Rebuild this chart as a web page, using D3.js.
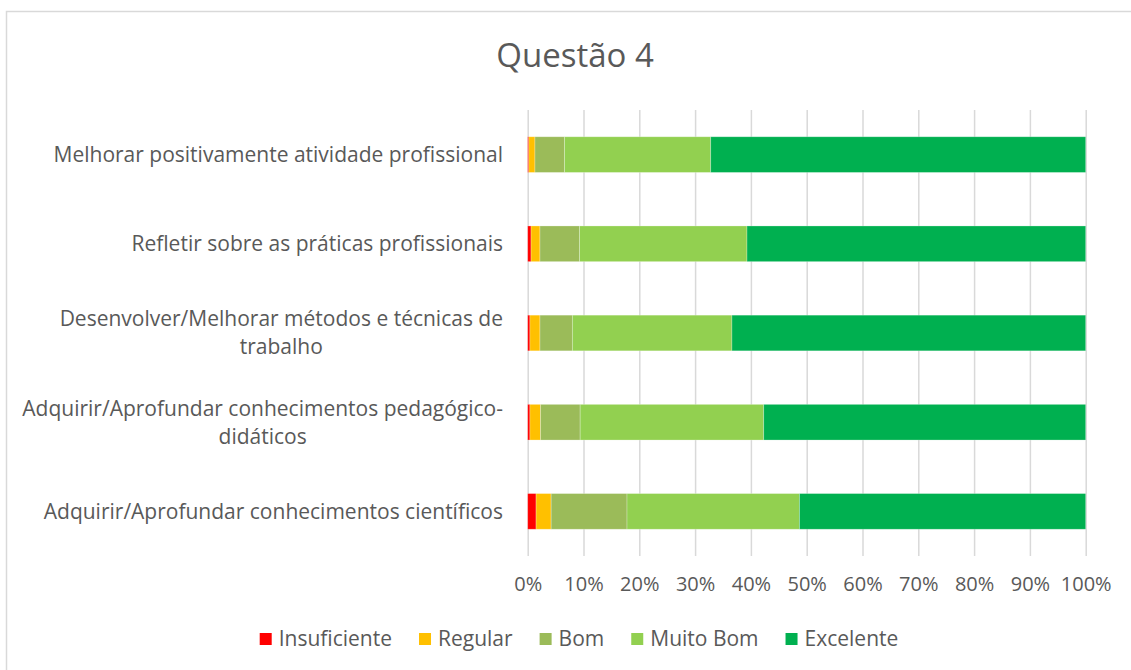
<!DOCTYPE html>
<html>
<head>
<meta charset="utf-8">
<script src="https://cdn.jsdelivr.net/npm/d3@7"></script>
<style>
	body { margin: 0; background: #fff; }
	svg { display: block; font-family: "Open Sans", Lato, sans-serif; }
	.tick line { stroke: #d9d9d9; stroke-width: 1.5; }
	.domain { display: none; }
	.tick text { fill: #595959; font-size: 20px; font-family: "Open Sans", sans-serif; }
</style>
</head>
<body>
<svg id="chart" width="1131" height="670"></svg>
<script>
// categories from top to bottom as displayed
const categories = [
	["Melhorar positivamente atividade profissional"],
	["Refletir sobre as práticas profissionais"],
	["Desenvolver/Melhorar métodos e técnicas de", "trabalho"],
	["Adquirir/Aprofundar conhecimentos pedagógico-", "didáticos"],
	["Adquirir/Aprofundar conhecimentos científicos"]
];
const seriesNames = ["Insuficiente", "Regular", "Bom", "Muito Bom", "Excelente"];
const colors = ["#ff0000", "#ffc000", "#9bbb59", "#92d050", "#00b050"];

// percentages per category (same order as categories)
const insuficiente = [0.2, 0.6, 0.4, 0.4, 1.5];
const regular = [1.1, 1.6, 1.8, 1.9, 2.7];
const bom = [5.3, 7.1, 5.8, 7.1, 13.6];
const muitoBom = [26.2, 30.0, 28.6, 32.9, 30.9];
const excelente = [67.2, 60.7, 63.4, 57.7, 51.3];

const ticks = [0, 10, 20, 30, 40, 50, 60, 70, 80, 90, 100];

const w = 1131;
const h = 670;
const svg = d3.select('#chart');

// chart frame
svg.append('rect')
	.attr('x', 6.5)
	.attr('y', 11.5)
	.attr('width', 1200)
	.attr('height', 700)
	.attr('fill', '#fff')
	.attr('stroke', '#d9d9d9')
	.attr('stroke-width', 1.5);

svg.append('text')
	.attr('x', 575)
	.attr('y', 67)
	.attr('text-anchor', 'middle')
	.attr('fill', '#595959')
	.style('font-size', '33px')
	.text('Questão 4');

const xScale = d3.scaleLinear()
	.domain([0, 100])
	.range([527.7, 1085.7]);

const yScale = d3.scaleBand()
	.domain(d3.range(categories.length))
	.range([110, 556])
	.paddingInner(0.6)
	.paddingOuter(0.3);

const xAxis = d3.axisBottom(xScale)
	.tickValues(ticks)
	.tickSize(-(556 - 110))
	.tickPadding(21)
	.tickFormat(v => v + '%');

svg.append('g')
	.attr('id', 'x-axis')
	.attr('transform', 'translate(0, 556)')
	.call(xAxis);

const rows = categories.map((c, i) => {
	const vals = [insuficiente[i], regular[i], bom[i], muitoBom[i], excelente[i]];
	const total = d3.sum(vals);
	let acc = 0;
	return vals.map((v, k) => {
		const seg = { row: i, k: k, x0: acc / total * 100, x1: (acc + v) / total * 100 };
		acc += v;
		return seg;
	});
});

svg.append('g')
	.selectAll('rect')
	.data(rows.flat())
	.enter()
	.append('rect')
	.attr('x', d => xScale(d.x0))
	.attr('y', d => yScale(d.row))
	.attr('width', d => xScale(d.x1) - xScale(d.x0))
	.attr('height', yScale.bandwidth())
	.attr('fill', d => colors[d.k])
	.attr('stroke', 'rgba(255,255,255,0.35)')
	.attr('stroke-width', 0.75);

// category labels, wrapped lines centred on their block, block right-aligned
const labelRight = 503;
const lineH = 28;
categories.forEach((lines, i) => {
	const cy = yScale(i) + yScale.bandwidth() / 2;
	const g = svg.append('g');
	const texts = lines.map((t, j) => g.append('text')
		.attr('y', cy + (j - (lines.length - 1) / 2) * lineH)
		.attr('dy', '0.35em')
		.attr('fill', '#595959')
		.style('font-size', '21px')
		.text(t));
	const maxW = d3.max(texts, t => t.node().getComputedTextLength());
	texts.forEach(t => t.attr('x', labelRight - maxW / 2).attr('text-anchor', 'middle'));
});

// legend
const legend = svg.append('g');
let lx = 0;
seriesNames.forEach((name, k) => {
	const item = legend.append('g').attr('transform', `translate(${lx}, 0)`);
	item.append('rect')
		.attr('x', 0)
		.attr('y', -6)
		.attr('width', 12)
		.attr('height', 12)
		.attr('fill', colors[k]);
	const t = item.append('text')
		.attr('x', 19)
		.attr('dy', '0.35em')
		.attr('fill', '#595959')
		.style('font-size', '21px')
		.text(name);
	lx += 19 + t.node().getComputedTextLength() + 27;
});
const legendW = lx - 27;
legend.attr('transform', `translate(${579 - legendW / 2}, 639)`);
</script>
</body>
</html>
